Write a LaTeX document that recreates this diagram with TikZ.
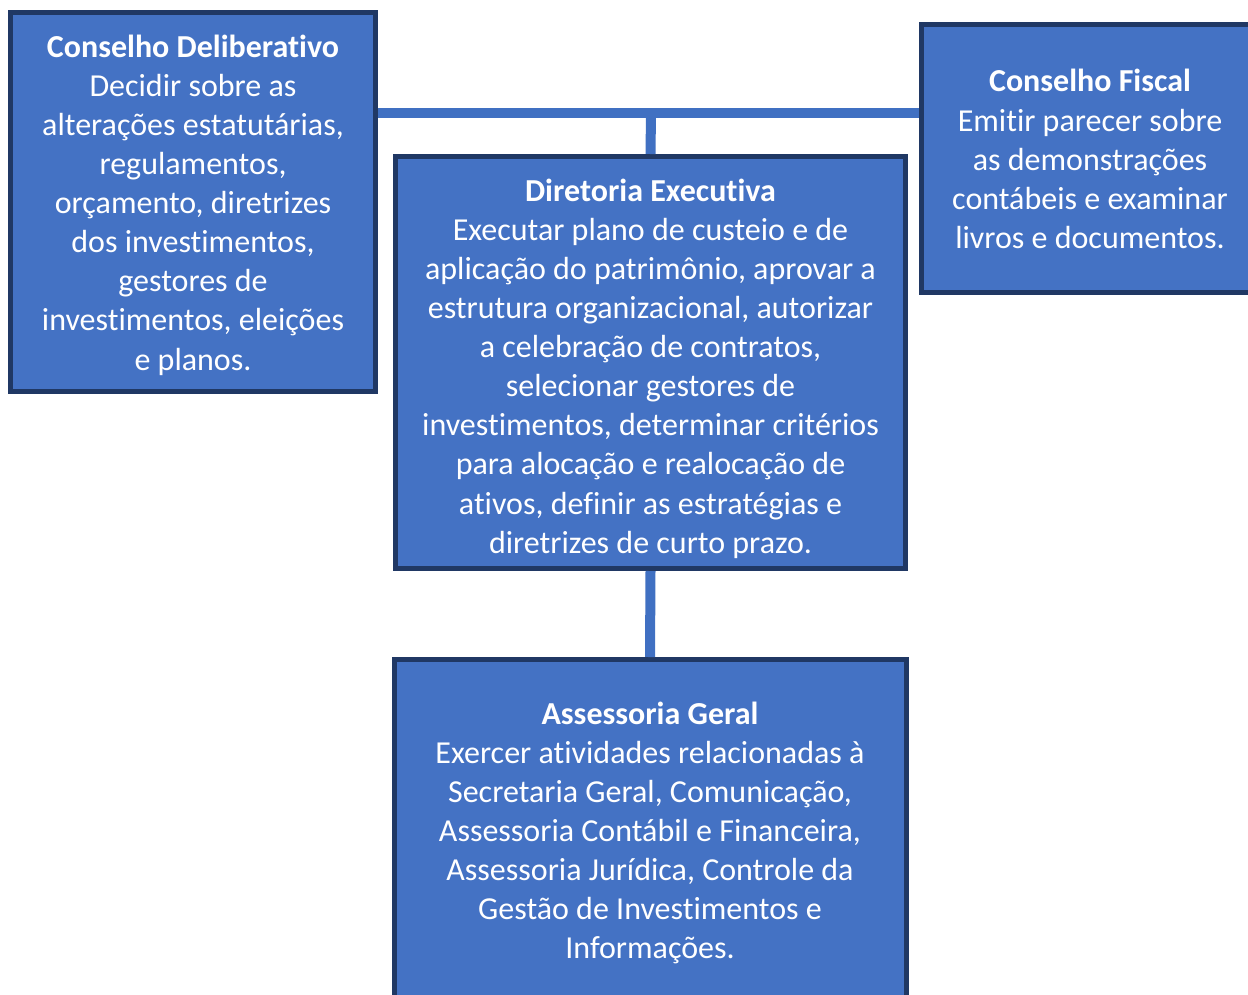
\documentclass[tikz,border=0pt]{standalone}
\usepackage{fontspec}
\setmainfont[Ligatures=NoCommon]{Carlito}
\definecolor{boxfill}{HTML}{4472C4}
\definecolor{boxline}{HTML}{203864}
\definecolor{conn}{HTML}{4070C2}
\begin{document}
\begin{tikzpicture}[x=1pt,y=-1pt,
  orgbox/.style={rectangle, draw=boxline, fill=boxfill, line width=5pt, inner sep=0pt},
  boxtext/.style={text=white, align=center, inner sep=0pt, font=\fontsize{32}{39.1}\selectfont},
  link/.style={draw=conn, line width=10pt}]
\useasboundingbox (0,0) rectangle (1248,994);
\node[orgbox, minimum width=365pt, minimum height=379pt] (delib) at (193,202) {};
\node[boxtext] (delib-t) at (193,205)
  {\textbf{Conselho Deliberativo}\\Decidir sobre as\\alterações estatutárias,\\regulamentos,\\orçamento, diretrizes\\dos investimentos,\\gestores de\\investimentos, eleições\\e planos.};
\node[orgbox, minimum width=337pt, minimum height=268pt] (fiscal) at (1090,158.5) {};
\node[boxtext] (fiscal-t) at (1090,159)
  {\textbf{Conselho Fiscal}\\Emitir parecer sobre\\as demonstrações\\contábeis e examinar\\livros e documentos.};
\node[orgbox, minimum width=510pt, minimum height=412pt] (dir) at (650.5,362.5) {};
\node[boxtext] (dir-t) at (650.5,368.5)
  {\textbf{Diretoria Executiva}\\Executar plano de custeio e de\\aplicação do patrimônio, aprovar a\\estrutura organizacional, autorizar\\a celebração de contratos,\\selecionar gestores de\\investimentos, determinar critérios\\para alocação e realocação de\\ativos, definir as estratégias e\\diretrizes de curto prazo.};
\node[orgbox, minimum width=512pt, minimum height=341pt] (ass) at (650,830) {};
\node[boxtext] (ass-t) at (650,833)
  {\textbf{Assessoria Geral}\\Exercer atividades relacionadas à\\Secretaria Geral, Comunicação,\\Assessoria Contábil e Financeira,\\Assessoria Jurídica, Controle da\\Gestão de Investimentos e\\Informações.};
\coordinate (j) at (651,113);
\draw[link] (delib.east |- j) -- (fiscal.west |- j);
\draw[link] (j) -- (dir.north);
\draw[link] (dir.south) -- (ass.north);
\end{tikzpicture}
\end{document}
